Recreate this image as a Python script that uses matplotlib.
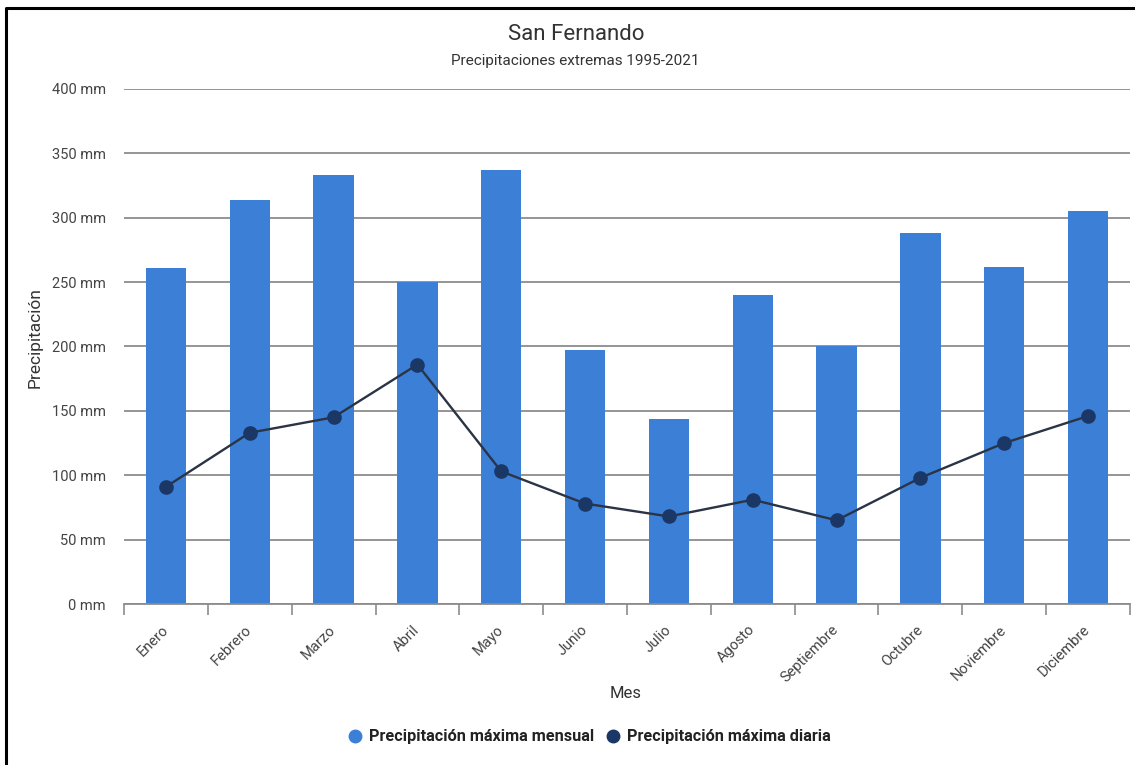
import matplotlib
matplotlib.use("Agg")
import matplotlib.pyplot as plt
import numpy as np
from matplotlib.lines import Line2D

plt.rcParams['font.family'] = ['Roboto', 'DejaVu Sans']

meses = ["Enero", "Febrero", "Marzo", "Abril", "Mayo", "Junio", "Julio",
         "Agosto", "Septiembre", "Octubre", "Noviembre", "Diciembre"]
max_mensual = [261, 314, 333, 250, 337, 197, 144, 240, 200, 288, 262, 305]
max_diaria = [91, 133, 145, 186, 103, 78, 68, 81, 65, 98, 125, 146]
yticks = [0, 50, 100, 150, 200, 250, 300, 350, 400]

bar_color = "#3b7fd6"
line_color = "#2b3445"
marker_color = "#1b3766"
grid_color = "#8c8c8c"
text_color = "#444444"

W, H = 1135, 765
fig = plt.figure(figsize=(W / 100, H / 100), dpi=100)
ax = fig.add_axes([124 / W, 1 - 604 / H, (1130 - 124) / W, (604 - 89) / H])

x = np.arange(len(meses))
ax.bar(x, max_mensual, width=0.48, color=bar_color, zorder=2)
ax.plot(x, max_diaria, color=line_color, lw=1.7, zorder=3)
ax.plot(x, max_diaria, 'o', ms=9.5, color=marker_color, zorder=4)

ax.set_xlim(-0.5, len(meses) - 0.5)
ax.set_ylim(0, 400)
ax.set_yticks(yticks)
ax.set_yticklabels([f"{v} mm" for v in yticks], fontsize=10.5, color=text_color)
ax.yaxis.grid(True, color=grid_color, lw=1.3, zorder=1)
ax.tick_params(axis='y', length=0, pad=13)

ax.set_xticks(x)
ax.set_xticklabels(meses, rotation=45, ha='right', va='center',
                   rotation_mode='anchor', fontsize=10.5, color=text_color)
ax.tick_params(axis='x', which='major', length=0, pad=17)
ax.set_xticks(np.arange(-0.5, len(meses)), minor=True)
ax.tick_params(axis='x', which='minor', length=8, width=1.2, color=grid_color,
               direction='out')

for s in ['top', 'right', 'left']:
    ax.spines[s].set_visible(False)
ax.spines['bottom'].set_color(grid_color)
ax.spines['bottom'].set_linewidth(1.3)

fig.text(35 / W, 1 - 338 / H, "Precipitación", rotation=90, ha='center',
         va='center', fontsize=12.5, color="#333333")
fig.text(576 / W, 1 - 35 / H, "San Fernando", ha='center', va='center',
         fontsize=16, color="#333333")
fig.text(575 / W, 1 - 61.5 / H, "Precipitaciones extremas 1995-2021", ha='center',
         va='center', fontsize=11, color="#333333")
fig.text(626 / W, 1 - 694 / H, "Mes", ha='center', va='center', fontsize=12,
         color="#333333")

handles = [
    Line2D([0], [0], marker='o', ls='none', ms=9, color=bar_color),
    Line2D([0], [0], marker='o', ls='none', ms=9, color=marker_color),
]
leg = fig.legend(handles, ["Precipitación máxima mensual", "Precipitación máxima diaria"],
                 loc='center', bbox_to_anchor=(588 / W, 1 - 737 / H), ncol=2,
                 frameon=False, prop={'size': 11.7, 'weight': 'bold'},
                 handletextpad=0.25, columnspacing=0.6, handlelength=1.2)
for t in leg.get_texts():
    t.set_color("#222222")

# frame lines along the left and top edges
fig.add_artist(Line2D([6 / W, 6 / W, 1.0], [0.0, 1 - 8 / H, 1 - 8 / H],
                      transform=fig.transFigure, color="black", lw=2.2))

fig.savefig("out.png", dpi=100)
